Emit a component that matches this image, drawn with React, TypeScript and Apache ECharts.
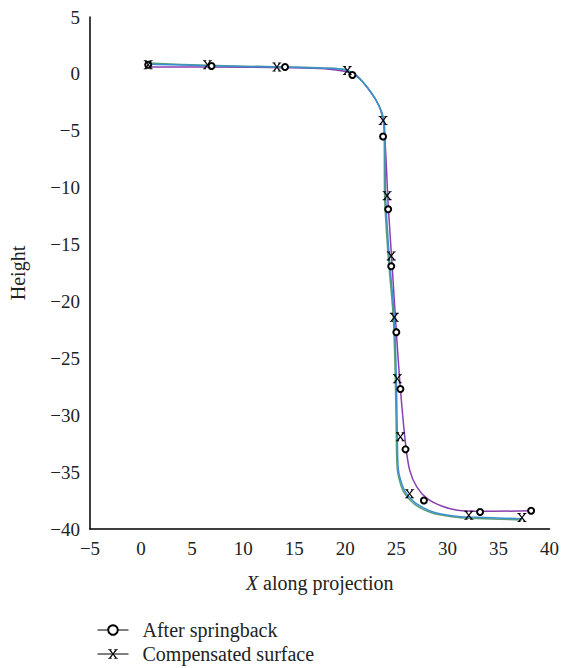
import React, { useEffect, useRef } from "react";
import * as echarts from "echarts";

// Marker points
const springbackMarks: [number, number][] = [
  [0.7, 0.8], [6.9, 0.7], [14.1, 0.6], [20.7, -0.1], [23.7, -5.5], [24.2, -11.9],
  [24.5, -16.9], [25.0, -22.7], [25.4, -27.7], [25.9, -33.0], [27.7, -37.5],
  [33.2, -38.5], [38.2, -38.4],
];
const compensatedMarks: [number, number][] = [
  [0.7, 0.8], [6.5, 0.8], [13.3, 0.6], [20.2, 0.3], [23.7, -4.1], [24.1, -10.7],
  [24.5, -16.0], [24.8, -21.4], [25.1, -26.8], [25.4, -31.9], [26.3, -36.9],
  [32.1, -38.8], [37.3, -39.0],
];

// Curves
const springbackCurve: [number, number][] = [
  [0.7, 0.6], [6.9, 0.6], [14.1, 0.55], [18.0, 0.45], [20.7, 0.05], [21.7, -0.7],
  [23.3, -2.8], [23.8, -4.8], [24.2, -11.5], [24.6, -17.0], [25.0, -22.7],
  [25.4, -27.7], [25.9, -32.5], [26.3, -34.8], [27.0, -36.3], [28.0, -37.3],
  [29.5, -38.0], [31.0, -38.35], [33.2, -38.45], [38.2, -38.4],
];
const compensatedCurve: [number, number][] = [
  [0.7, 0.95], [6.5, 0.75], [13.3, 0.62], [18.0, 0.5], [20.2, 0.3], [21.7, -0.7],
  [23.3, -2.8], [23.8, -4.6], [23.85, -10.7], [24.2, -16.0], [24.7, -21.4],
  [24.9, -26.8], [25.0, -31.9], [25.1, -34.8], [25.5, -36.3], [25.9, -37.0],
  [26.9, -37.9], [28.5, -38.6], [30.6, -38.95], [32.1, -39.05], [37.3, -39.2],
];
const targetCurve: [number, number][] = [
  [0.7, 0.85], [6.5, 0.72], [13.3, 0.6], [18.0, 0.5], [20.2, 0.3], [21.7, -0.7],
  [23.3, -2.8], [23.85, -4.6], [23.95, -10.7], [24.3, -16.0], [24.8, -21.4],
  [25.0, -26.8], [25.1, -31.9], [25.2, -34.8], [25.6, -36.2], [26.0, -36.9],
  [27.0, -37.8], [28.6, -38.5], [30.6, -38.85], [32.1, -38.95], [37.3, -39.1],
];

const seriesNames = ["After springback", "Compensated surface"];

const FONT = '"Liberation Serif", "Times New Roman", serif';
const X_SYMBOL =
  "path://M0,0H3.6V0.9H2.8L5,4.1L7.2,0.9H6.4V0H10V0.9H9.1L5.8,5L9.1,9.1H10V10H6.4V9.1H7.2L5,5.9L2.8,9.1H3.6V10H0V9.1H0.9L4.2,5L0.9,0.9H0Z";

const minus = (v: number) => String(v).replace("-", "\u2212");

export default function App() {
  const ref = useRef<HTMLDivElement>(null);
  useEffect(() => {
    if (!ref.current) return;
    const chart = echarts.init(ref.current, null, { renderer: "svg" });
    chart.setOption({
      animation: false,
      backgroundColor: "#fff",
      grid: { left: 89, right: 12, top: 17, bottom: 139 },
      xAxis: {
        type: "value",
        min: -5,
        max: 40,
        interval: 5,
        name: "{i|X} along projection",
        nameLocation: "middle",
        nameGap: 44,
        nameTextStyle: {
          fontFamily: FONT,
          fontSize: 20,
          color: "#222",
          rich: { i: { fontFamily: FONT, fontSize: 20, fontStyle: "italic", color: "#222" } },
        },
        axisLine: { show: true, onZero: false, lineStyle: { color: "#000", width: 1.5 } },
        axisTick: { show: false },
        splitLine: { show: false },
        axisLabel: { fontFamily: FONT, fontSize: 19, color: "#222", margin: 10, formatter: minus },
      },
      yAxis: {
        type: "value",
        min: -40,
        max: 5,
        interval: 5,
        name: "Height",
        nameLocation: "middle",
        nameGap: 62,
        nameTextStyle: { fontFamily: FONT, fontSize: 20, color: "#222" },
        axisLine: { show: true, onZero: false, lineStyle: { color: "#000", width: 1.5 } },
        axisTick: { show: false },
        splitLine: { show: false },
        axisLabel: { fontFamily: FONT, fontSize: 19, color: "#222", margin: 10, formatter: minus },
      },
      legend: {
        orient: "vertical",
        left: 97,
        top: 620,
        padding: 0,
        itemWidth: 31,
        itemHeight: 12,
        itemGap: 4,
        textStyle: { fontFamily: FONT, fontSize: 20, color: "#222", padding: [0, 0, 0, 9] },
        data: [
          {
            name: seriesNames[0],
            lineStyle: { color: "#000", width: 1, opacity: 1 },
            itemStyle: { color: "#000", borderColor: "#000", borderWidth: 1 },
          },
          {
            name: seriesNames[1],
            lineStyle: { color: "#000", width: 1, opacity: 1 },
            itemStyle: { color: "#000" },
          },
        ],
      },
      series: [
        {
          type: "line",
          data: springbackCurve,
          showSymbol: false,
          symbol: "none",
          smooth: 0.3,
          lineStyle: { color: "#8a3fb0", width: 1.5 },
          z: 2,
        },
        {
          type: "line",
          data: compensatedCurve,
          showSymbol: false,
          symbol: "none",
          smooth: 0.3,
          lineStyle: { color: "#5e9e74", width: 1.5 },
          z: 3,
        },
        {
          type: "line",
          data: targetCurve,
          showSymbol: false,
          symbol: "none",
          smooth: 0.3,
          lineStyle: { color: "#3a8fd0", width: 1.5 },
          z: 4,
        },
        {
          name: seriesNames[0],
          type: "line",
          data: springbackMarks,
          symbol: "emptyCircle",
          symbolSize: 6,
          itemStyle: { color: "#000", borderColor: "#000", borderWidth: 1 },
          lineStyle: { width: 0, opacity: 0 },
          z: 6,
        },
        {
          name: seriesNames[1],
          type: "line",
          data: compensatedMarks,
          symbol: X_SYMBOL,
          symbolSize: [9, 9],
          itemStyle: { color: "#000" },
          lineStyle: { width: 0, opacity: 0 },
          z: 7,
        },
      ],
    });
    return () => chart.dispose();
  }, []);
  return (
    <div
      ref={ref}
      style={{ position: "absolute", left: 0, top: 0, width: 562, height: 668 }}
    />
  );
}
